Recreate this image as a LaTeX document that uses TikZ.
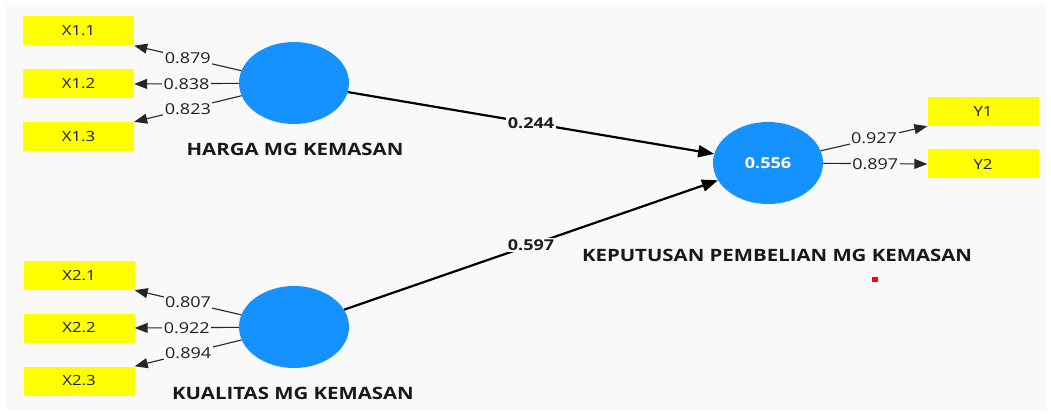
\documentclass[tikz,border=0pt]{standalone}
\usepackage{fontspec}
\usepackage{graphicx}
\setmainfont{Open Sans}
\usetikzlibrary{shapes.geometric,arrows.meta}
\definecolor{bgc}{HTML}{F9F9F9}
\definecolor{lvblue}{HTML}{1592FF}
\definecolor{mvyellow}{HTML}{FFFF00}
\definecolor{txt}{HTML}{1E1E1E}
\newcommand{\hs}[1]{\scalebox{1.2}[1]{#1}}
\tikzset{
  ind/.style={fill=mvyellow, minimum width=111pt, minimum height=29pt, inner sep=0pt, text=txt, font=\fontsize{14}{14}\selectfont},
  lv/.style={ellipse, fill=lvblue, minimum width=110pt, minimum height=82pt, inner sep=0pt, text=white, font=\bfseries\fontsize{15}{15}\selectfont},
  load/.style={draw=black!85, line width=1.1pt, -{Triangle[length=13pt,width=10pt]}},
  struct/.style={draw=black, line width=2.2pt, -{Triangle[length=16pt,width=12pt]}},
  wlab/.style={fill=bgc, inner sep=1.5pt, text=txt, font=\fontsize{15}{15}\selectfont},
  slab/.style={fill=bgc, inner sep=1.5pt, text=txt, font=\bfseries\fontsize{15}{15}\selectfont},
  title/.style={text=black!90, font=\bfseries\fontsize{17}{17}\selectfont},
}
\begin{document}
\begin{tikzpicture}[x=1pt,y=-1pt]
\useasboundingbox (0,0) rectangle (1051,414);
\fill[white] (0,0) rectangle (1051,414);
\fill[bgc] (6,4) rectangle (1046,410);
% indicators
\node[ind] (x11) at (78.5,31) {\hs{X1.1}};
\node[ind] (x12) at (78.5,84) {\hs{X1.2}};
\node[ind] (x13) at (78.5,136.5) {\hs{X1.3}};
\node[ind] (x21) at (79,275.5) {\hs{X2.1}};
\node[ind] (x22) at (79,328) {\hs{X2.2}};
\node[ind] (x23) at (79,381) {\hs{X2.3}};
\node[ind] (y1) at (983,111.5) {\hs{Y1}};
\node[ind] (y2) at (983,164) {\hs{Y2}};
% latent variables
\node[lv] (h) at (294,83) {};
\node[lv] (k) at (294,327) {};
\node[lv] (y) at (768,163) {\hs{0.556}};
% titles
\node[title] (th) at (295,149) {\hs{HARGA MG KEMASAN}};
\node[title] (tk) at (293,393) {\hs{KUALITAS MG KEMASAN}};
\node[title] (ty) at (777,255) {\hs{KEPUTUSAN PEMBELIAN MG KEMASAN}};
\node[fill=red, minimum width=6pt, minimum height=5pt, inner sep=0pt] (dot) at (875,279.5) {};
% loadings
\draw[load] (h) -- node[wlab] {\hs{0.879}} (x11.south east);
\draw[load] (h) -- node[wlab] {\hs{0.838}} (x12.east);
\draw[load] (h) -- node[wlab] {\hs{0.823}} (x13.north east);
\draw[load] (k) -- node[wlab] {\hs{0.807}} (x21.south east);
\draw[load] (k) -- node[wlab] {\hs{0.922}} (x22.east);
\draw[load] (k) -- node[wlab] {\hs{0.894}} (x23.north east);
\draw[load] (y) -- node[wlab] {\hs{0.927}} (y1.south west);
\draw[load] (y) -- node[wlab] {\hs{0.897}} (y2.west);
% structural paths
\draw[struct] (h) -- node[slab] {\hs{0.244}} (y);
\draw[struct] (k) -- node[slab] {\hs{0.597}} (y);
\end{tikzpicture}
\end{document}
